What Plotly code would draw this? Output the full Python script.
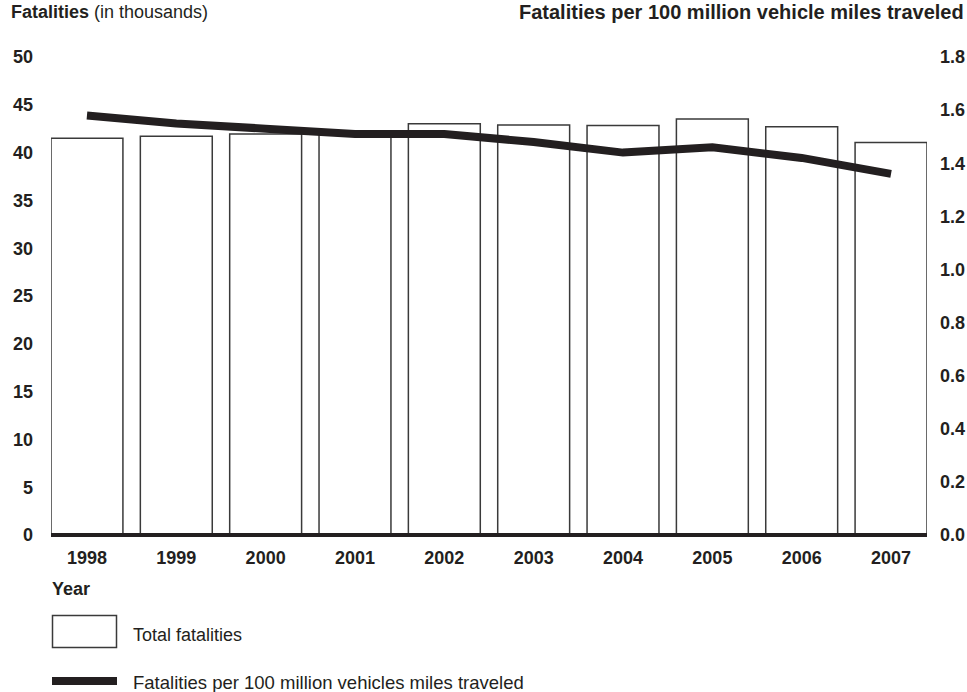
import plotly.graph_objects as go

years = [1998, 1999, 2000, 2001, 2002, 2003, 2004, 2005, 2006, 2007]
total_fatalities = [41.501, 41.717, 41.945, 42.196, 43.005, 42.884, 42.836, 43.510, 42.708, 41.059]
rate_per_100m = [1.58, 1.55, 1.53, 1.51, 1.51, 1.48, 1.44, 1.46, 1.42, 1.36]
left_ticks = [0, 5, 10, 15, 20, 25, 30, 35, 40, 45, 50]
right_ticks = [0.0, 0.2, 0.4, 0.6, 0.8, 1.0, 1.2, 1.4, 1.6, 1.8]

INK = "#231f20"
FONT = "Liberation Sans, Arial, Helvetica, sans-serif"
FS = 18
W, H = 967, 692
ML, MR, MT, MB = 51, 40, 57, 157
PW, PH = W - ML - MR, H - MT - MB

def px(x):
    return (x - ML) / PW

def py(y):
    return (H - MB - y) / PH

fig = go.Figure()
fig.add_trace(go.Bar(
    x=years, y=total_fatalities, width=0.805,
    marker=dict(color="white", line=dict(color="#3a3a3a", width=1.5)),
    showlegend=False, yaxis="y", hoverinfo="skip"))
fig.add_trace(go.Scatter(
    x=years, y=rate_per_100m, mode="lines",
    line=dict(color=INK, width=8), yaxis="y2", showlegend=False))

half = 0.4025
fig.update_layout(
    width=W, height=H,
    margin=dict(l=ML, r=MR, t=MT, b=MB, pad=0, autoexpand=False),
    paper_bgcolor="white", plot_bgcolor="white",
    font=dict(family=FONT, color=INK, size=FS),
    bargap=0,
    xaxis=dict(range=[years[0] - half, years[-1] + half], tickmode="array",
               tickvals=years, ticktext=[str(y) for y in years],
               showgrid=False, zeroline=False, showline=False, ticks="",
               tickfont=dict(size=FS, family=FONT, weight="bold"),
               ticklabelstandoff=10, automargin=False),
    yaxis=dict(range=[0, 50], tickmode="array", tickvals=left_ticks,
               showgrid=False, zeroline=False, showline=False, ticks="",
               tickfont=dict(size=FS, family=FONT, weight="bold"),
               ticklabelstandoff=17, automargin=False),
    yaxis2=dict(range=[0, 1.8], tickmode="array", tickvals=right_ticks,
                tickformat=".1f", overlaying="y", side="right",
                showgrid=False, zeroline=False, showline=False, ticks="",
                tickfont=dict(size=FS, family=FONT, weight="bold"),
                ticklabelstandoff=12, automargin=False),
)

shapes = [
    # baseline
    dict(type="line", xref="paper", yref="paper", x0=0, x1=1, y0=0, y1=0,
         line=dict(color=INK, width=4), layer="above"),
    # legend: box
    dict(type="rect", xref="paper", yref="paper", x0=px(52.5), x1=px(116.5),
         y0=py(647.5), y1=py(615.5), line=dict(color="#3a3a3a", width=1.5),
         fillcolor="white"),
    # legend: line
    dict(type="line", xref="paper", yref="paper", x0=px(52), x1=px(117),
         y0=py(681), y1=py(681), line=dict(color=INK, width=8)),
]
fig.update_layout(shapes=shapes)

annotations = [
    dict(text="<b>Fatalities</b> (in thousands)", xref="paper", yref="paper",
         x=px(9), y=py(12), xanchor="left", yanchor="middle", showarrow=False,
         font=dict(size=FS)),
    dict(text="<b>Fatalities per 100 million vehicle miles traveled</b>", xref="paper",
         yref="paper", x=px(966), y=py(12), xanchor="right", yanchor="middle",
         showarrow=False, font=dict(size=20)),
    dict(text="<b>Year</b>", xref="paper", yref="paper", x=px(50), y=py(589),
         xanchor="left", yanchor="middle", showarrow=False, font=dict(size=FS)),
    dict(text="Total fatalities", xref="paper", yref="paper", x=px(131), y=py(635),
         xanchor="left", yanchor="middle", showarrow=False, font=dict(size=FS)),
    dict(text="Fatalities per 100 million vehicles miles traveled", xref="paper",
         yref="paper", x=px(131), y=py(682), xanchor="left", yanchor="middle",
         showarrow=False, font=dict(size=18.5)),
]
fig.update_layout(annotations=annotations)

fig.write_html(
    "out.html",
    config={"displayModeBar": False, "staticPlot": True},
    post_script="document.body.style.margin='0';document.body.style.padding='0';"
                "document.body.style.overflow='hidden';",
)
